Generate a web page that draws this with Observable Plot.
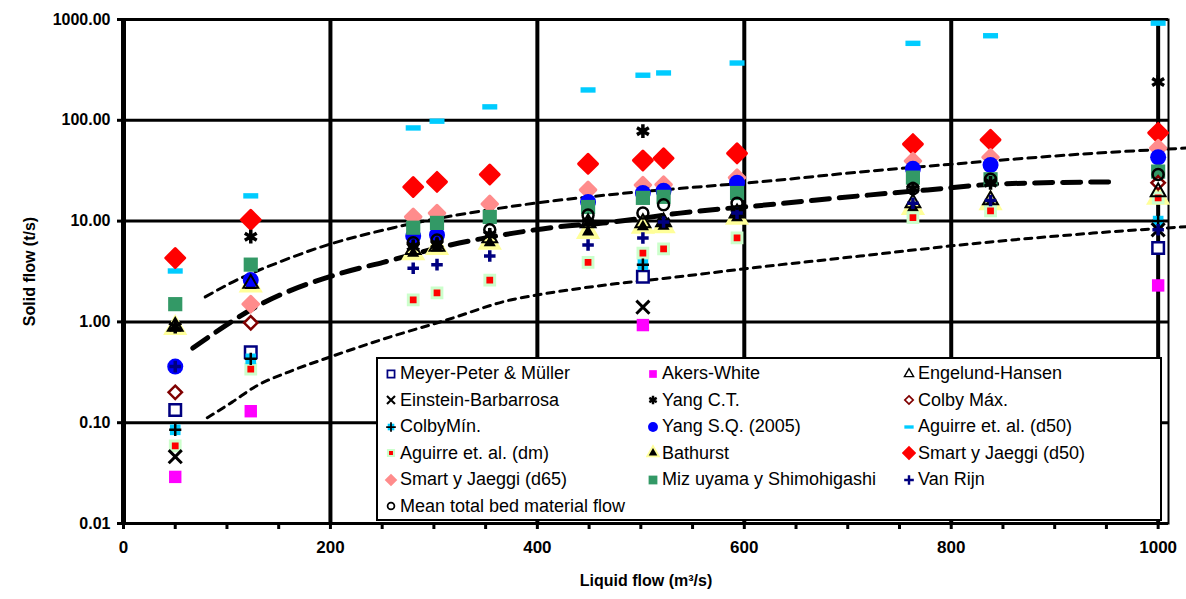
<!DOCTYPE html>
<html>
<head>
<meta charset="utf-8">
<script src="https://cdn.jsdelivr.net/npm/d3@7"></script>
<script src="https://cdn.jsdelivr.net/npm/@observablehq/plot@0.6"></script>
<style>
  html, body { margin: 0; padding: 0; background: #fff; }
  #wrap { position: relative; width: 1186px; height: 599px; font-family: "Liberation Sans", Arial, sans-serif; }
  #legend { position: absolute; left: 376px; top: 357px; width: 786px; height: 164px; box-sizing: border-box;
            background: #fff; border: 2px solid #000; }
  .item { position: absolute; display: flex; align-items: center; font-size: 18px; color: #000; white-space: nowrap; }
  .item svg { margin-right: 2px; }
</style>
</head>
<body>
<div id="wrap"></div>
<script>
// ---------- data ----------
const N = null;
const flows = [50, 123, 280, 303, 354, 449, 502, 522, 593, 763, 838, 1000];   // liquid flow (m3/s)

const meyerPeter = [0.134, 0.50, N, N, N, N, 2.8, N, N, N, N, 5.4];
const akersWhite = [0.029, 0.13, N, N, N, N, 0.93, N, N, N, N, 2.3];
const engelundHansen = [0.9, 2.4, 5.2, 5.6, 6.8, 9.6, 9.6, 9.8, 12, 15.1, 16.2, 19.5];
const einsteinBarbarrosa = [0.046, N, N, N, N, N, 1.4, N, N, N, N, 8.2];
const yangCT = [0.9, 7.0, 5.6, 5.9, 7.3, 9.6, 78, 9.8, 12, 21, 24, 240];
const colbyMax = [0.20, 0.98, N, N, N, N, N, N, N, N, N, 24];
const colbyMin = [0.085, 0.43, N, N, N, N, 3.7, N, N, N, N, 10];
const yangSQ = [0.36, 2.6, 7.1, 7.3, N, 15.5, 19, 20, 24, 33, 36, 43];
const aguirreD50 = [3.2, 17.8, 84, 98, 136, 200, 280, 295, 370, 580, 690, 920];
const aguirreDm = [0.059, 0.34, 1.65, 1.94, 2.6, 3.9, 4.8, 5.3, 6.8, 10.8, 12.6, 17];
const bathurst = [0.87, 2.3, 4.8, 5.4, 6.1, 7.8, 8.8, 8.9, 10.8, 13.5, 15, 17];
const smartD50 = [4.3, 10.3, 21.8, 24.5, 29, 37, 40, 42, 47, 58, 64, 75];
const smartD65 = [N, 1.5, 11, 12, 14.8, 20.4, 22.8, 23, 27, 39.5, 43, 53];
const mizuyama = [1.5, 3.7, 8.6, 9.6, 11, 13.8, 17, 17.4, 19, 27, 26, 31];
const vanRijn = [0.36, N, 3.4, 3.7, 4.5, 5.8, 6.8, 9.8, 12, 15, 16, 8.2];
const meanTotal = [N, N, 6.1, 6.5, 8.2, 11.5, 12, 14.5, 15, 21, 26, 29];

// trend curves
const midCurveX = [67, 135, 213, 251, 316, 377, 413, 473, 538, 632, 722, 777, 847, 955];
const midCurveY = [0.55, 1.54, 3.1, 3.9, 5.8, 7.6, 8.6, 9.8, 12, 14.8, 18.2, 20.4, 23.4, 24.5];
const upperCurveX = [79, 106, 150, 190, 261, 386, 468, 555, 615, 712, 802, 937, 1027];
const upperCurveY = [1.77, 2.5, 3.9, 5.5, 8.6, 14.5, 18.2, 21.8, 24.5, 30.7, 36.8, 47, 53];
const lowerCurveX = [81, 105, 128, 160, 200, 248, 313, 374, 400, 477, 522, 615, 712, 809, 937, 1027];
const lowerCurveY = [0.112, 0.16, 0.23, 0.32, 0.45, 0.66, 1.05, 1.65, 1.85, 2.4, 2.7, 3.5, 4.5, 5.8, 7.6, 8.8];

const yTicks = [0.01, 0.1, 1, 10, 100, 1000];
const xTicks = [0, 200, 400, 600, 800, 1000];
const xMinorTicks = d3.range(0, 1001, 50);
const yTitle = "Solid flow (t/s)";
const xTitle = "Liquid flow (m³/s)";

// ---------- styles ----------
const dash = { draw(ctx, size) { const r = Math.sqrt(size / Math.PI); const h = r * 0.36;
  ctx.moveTo(-r, -h); ctx.lineTo(r, -h); ctx.lineTo(r, h); ctx.lineTo(-r, h); ctx.closePath(); } };

const series = [
  { name: "Meyer-Peter & Müller", v: meyerPeter, layers: [{ symbol: d3.symbolSquare, r: 6.5, fill: "white", stroke: "#000080", strokeWidth: 2.5 }] },
  { name: "Akers-White", v: akersWhite, layers: [{ symbol: d3.symbolSquare, r: 7, fill: "#ff00ff" }] },
  { name: "Engelund-Hansen", v: engelundHansen, layers: [{ symbol: d3.symbolTriangle, r: 5.5, fill: "none", stroke: "#000", strokeWidth: 2 }] },
  { name: "Einstein-Barbarrosa", v: einsteinBarbarrosa, layers: [{ symbol: d3.symbolTimes, r: 6, stroke: "#000", strokeWidth: 3 }] },
  { name: "Yang C.T.", v: yangCT, layers: [{ symbol: d3.symbolAsterisk, r: 6.5, stroke: "#000", strokeWidth: 3.5 }] },
  { name: "Colby Máx.", v: colbyMax, layers: [{ symbol: d3.symbolDiamond2, r: 6, fill: "white", stroke: "#800000", strokeWidth: 2.5 }] },
  { name: "ColbyMín.", v: colbyMin, layers: [{ symbol: d3.symbolSquare, r: 6, fill: "#00ccff" }, { symbol: d3.symbolPlus, r: 4, stroke: "#000", strokeWidth: 2.5 }] },
  { name: "Yang S.Q. (2005)", v: yangSQ, layers: [{ symbol: d3.symbolCircle, r: 8, fill: "#0000ff" }] },
  { name: "Aguirre et. al. (d50)", v: aguirreD50, layers: [{ symbol: dash, r: 7.5, fill: "#00ccff" }] },
  { name: "Aguirre et. al. (dm)", v: aguirreDm, layers: [{ symbol: d3.symbolSquare, r: 5.5, fill: "#ff0000", stroke: "#ccffcc", strokeWidth: 3 }] },
  { name: "Bathurst", v: bathurst, layers: [{ symbol: d3.symbolTriangle, r: 9, fill: "#ffff99" }, { symbol: d3.symbolTriangle, r: 4.5, fill: "#000" }] },
  { name: "Smart y Jaeggi (d50)", v: smartD50, layers: [{ symbol: d3.symbolDiamond2, r: 8.5, fill: "#ff0000", stroke: "#ff0000", strokeWidth: 3, strokeLinejoin: "round" }] },
  { name: "Smart y Jaeggi (d65)", v: smartD65, layers: [{ symbol: d3.symbolDiamond2, r: 7, fill: "#ff8c8c", stroke: "#ff8c8c", strokeWidth: 3, strokeLinejoin: "round" }] },
  { name: "Miz uyama  y Shimohigashi", v: mizuyama, layers: [{ symbol: d3.symbolSquare, r: 8, fill: "#339966" }] },
  { name: "Van Rijn", v: vanRijn, layers: [{ symbol: d3.symbolPlus, r: 3.8, stroke: "#000080", strokeWidth: 3.5 }] },
  { name: "Mean total bed material flow", v: meanTotal, layers: [{ symbol: d3.symbolCircle, r: 5.5, fill: "none", stroke: "#000", strokeWidth: 2.5 }] }
];
// drawing order (back to front)
const drawOrder = ["Aguirre et. al. (d50)", "Bathurst", "Smart y Jaeggi (d50)", "Smart y Jaeggi (d65)", "Yang S.Q. (2005)",
  "Miz uyama  y Shimohigashi", "Aguirre et. al. (dm)", "Akers-White", "Meyer-Peter & Müller", "ColbyMín.", "Colby Máx.",
  "Engelund-Hansen", "Einstein-Barbarrosa", "Yang C.T.", "Van Rijn", "Mean total bed material flow"];

const pts = vals => flows.map((x, i) => ({ x, y: vals[i] })).filter(d => d.y != null);
const curve = (xs, ys) => xs.map((x, i) => ({ x, y: ys[i] }));

const dotMarks = [];
for (const nm of drawOrder) {
  const s = series.find(d => d.name === nm);
  for (const L of s.layers) dotMarks.push(Plot.dot(pts(s.v), { x: "x", y: "y", ...L }));
}

const chart = Plot.plot({
  width: 1186, height: 599,
  marginLeft: 123, marginRight: 18, marginTop: 19, marginBottom: 76,
  style: { fontFamily: "'Liberation Sans', Arial, sans-serif", background: "white" },
  x: { domain: [0, 1010] },
  y: { type: "log", domain: [0.01, 1000] },
  marks: [
    Plot.ruleY(yTicks, { stroke: "#000", strokeWidth: 3 }),
    Plot.ruleX(xTicks.slice(1), { stroke: "#000", strokeWidth: 4 }),
    Plot.frame({ stroke: "#000", strokeWidth: 2 }),
    Plot.ruleX([0], { stroke: "#000", strokeWidth: 5 }),
    Plot.axisY({ ticks: yTicks, tickFormat: d => d.toFixed(2), tickSize: 6, tickPadding: 7, strokeWidth: 3,
      fontSize: 16, fontWeight: "bold", label: yTitle, labelAnchor: "center", labelArrow: "none", labelOffset: 100 }),
    Plot.axisX({ ticks: xMinorTicks, tickFormat: () => "", tickSize: 6, strokeWidth: 3, label: null }),
    Plot.axisX({ ticks: xTicks, tickFormat: d => String(d), tickSize: 0, tickPadding: 17, fontSize: 17, fontWeight: "bold",
      label: xTitle, labelAnchor: "center", labelArrow: "none", labelOffset: 62 }),
    Plot.line(curve(upperCurveX, upperCurveY), { x: "x", y: "y", stroke: "#000", strokeWidth: 3, strokeDasharray: "8,6", curve: "monotone-x" }),
    Plot.line(curve(lowerCurveX, lowerCurveY), { x: "x", y: "y", stroke: "#000", strokeWidth: 3, strokeDasharray: "7,6", curve: "monotone-x" }),
    Plot.line(curve(midCurveX, midCurveY), { x: "x", y: "y", stroke: "#000", strokeWidth: 5, strokeDasharray: "18,10", curve: "monotone-x" }),
    ...dotMarks
  ]
});
d3.select(chart).selectAll("[aria-label='y-axis label'] text, [aria-label='x-axis label'] text")
  .attr("font-weight", "bold").attr("font-size", 16);

const wrap = document.getElementById("wrap");
wrap.appendChild(chart);

// ---------- legend ----------
const legend = document.createElement("div");
legend.id = "legend";
wrap.appendChild(legend);
const colLeft = [6, 268, 524];
series.forEach((s, i) => {
  const row = Math.floor(i / 3), col = i % 3;
  const item = document.createElement("div");
  item.className = "item";
  item.style.left = colLeft[col] + "px";
  item.style.top = (4 + row * 26.5) + "px";
  const svg = d3.create("svg").attr("width", 14).attr("height", 18).attr("viewBox", "-7 -9 14 18");
  for (const L of s.layers) {
    const rr = Math.max(L.r * 0.62, 3.2);
    svg.append("path").attr("d", d3.symbol(L.symbol, Math.PI * rr * rr)())
      .attr("fill", L.fill ?? "none").attr("stroke", L.stroke ?? "none").attr("stroke-width", (L.strokeWidth ?? 0) * 0.7);
  }
  item.appendChild(svg.node());
  const t = document.createElement("span");
  t.textContent = s.name;
  item.appendChild(t);
  legend.appendChild(item);
});
</script>
</body>
</html>
